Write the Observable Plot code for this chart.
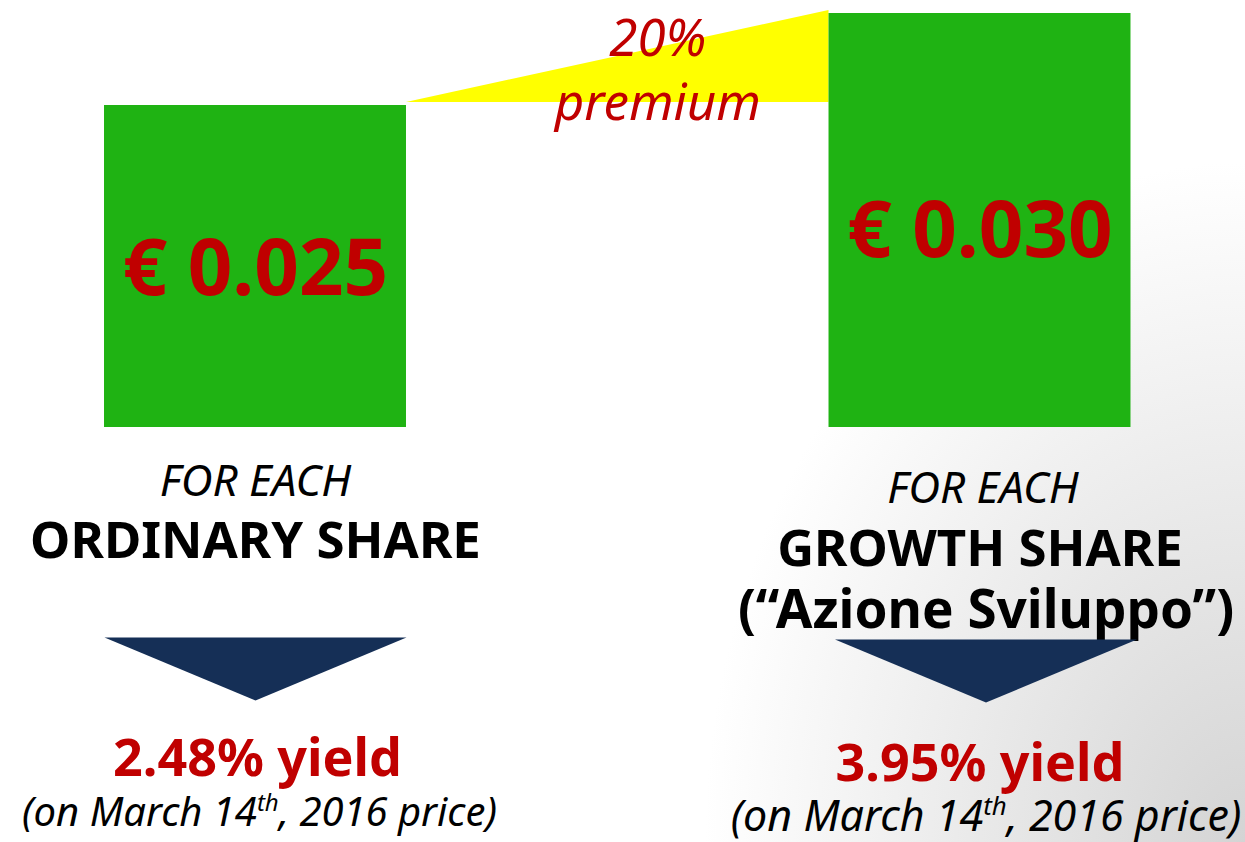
<!DOCTYPE html>
<html>
<head>
<meta charset="utf-8">
<script src="https://cdn.jsdelivr.net/npm/d3@7"></script>
<script src="https://cdn.jsdelivr.net/npm/@observablehq/plot@0.6"></script>
<style>
  html, body { margin: 0; padding: 0; background: #fff; }
  #chart svg { display: block; }
</style>
</head>
<body>
<div id="chart"></div>
<script>
// ---- data ----
const shareTypes = ["ORDINARY SHARE", "GROWTH SHARE"];
const shareSubtitles = ["", "(“Azione Sviluppo”)"];
const forEachLabel = "FOR EACH";
const dividends = [0.025, 0.030];
const dividendLabels = ["€ 0.025", "€ 0.030"];
const yields = ["2.48% yield", "3.95% yield"];
const priceNotes = ["(on March 14th, 2016 price)", "(on March 14th, 2016 price)"];
const premiumLabel = "20%\npremium";
const axisBase = 0.0075;

// ---- layout / style ----
const FONT = '"Noto Sans", "Open Sans", sans-serif';
const RED = "#c00000";
const GREEN = "#1fb313";
const NAVY = "#152f56";
const HW = 0.2084; // bar half width in x units

const rows = shareTypes.map((t, i) => ({
  i, forEach: forEachLabel, type: t, sub: shareSubtitles[i], value: dividends[i],
  label: dividendLabels[i], yield: yields[i], note: priceNotes[i]
}));

const wedge = {
  draw(ctx) {
    const w = 151, h = 63;
    ctx.moveTo(-w, 0); ctx.lineTo(w, 0); ctx.lineTo(0, h); ctx.closePath();
  }
};

const premiumPts = [
  {x: rows[0].i + HW, y1: dividends[0], y2: dividends[0]},
  {x: rows[1].i - HW, y1: dividends[0], y2: dividends[1]}
];

const common = {fontFamily: FONT, textAnchor: "middle"};

// one text mark per row, anchored at the bar base, offset in px
function rowText(key, opts, dys, dxs = [0, 0], sizes = null) {
  return rows.filter(r => r[key]).map(r => Plot.text([r], {
    ...common, ...opts, x: "i", y: axisBase, text: key,
    dy: dys[r.i], dx: dxs[r.i], ...(sizes ? {fontSize: sizes[r.i]} : {})
  }));
}

const chart = Plot.plot({
  width: 1245, height: 842,
  margin: 0,
  x: {type: "linear", domain: [0, 1], range: [255, 979.5], axis: null},
  y: {type: "linear", domain: [axisBase, 0.030], range: [427, 13], axis: null},
  style: {background: "radial-gradient(ellipse 540px 680px at 100% 100%, #d4d4d4 0%, #ffffff 100%)", overflow: "visible"},
  marks: [
    Plot.areaY(premiumPts, {x: "x", y1: "y1", y2: "y2", fill: "#ffff00", curve: "linear", dy: -3}),
    Plot.rect(rows, {x1: d => d.i - HW, x2: d => d.i + HW, y1: axisBase, y2: "value", fill: GREEN}),
    rows.map(r => Plot.text([r], {...common, x: "i", y: d => (d.value + axisBase) / 2, text: "label",
      fill: RED, fontSize: 78, fontWeight: "bold", dy: [4, 12][r.i]})),
    Plot.text([premiumLabel], {...common, x: 0.5, y: dividends[1], text: d => d, fill: RED,
      fontSize: 51, fontStyle: "italic", lineAnchor: "top", lineHeight: 1.24, dx: 40, dy: -2}),
    rowText("forEach", {fill: "#000", fontSize: 44, fontStyle: "italic", lineAnchor: "bottom"}, [68, 75], [0, 3]),
    rowText("type", {fill: "#000", fontSize: 51, fontWeight: "bold", lineAnchor: "bottom"}, [130, 138]),
    rowText("sub", {fill: "#000", fontSize: 53, fontWeight: "bold", lineAnchor: "bottom"}, [0, 200], [0, 6]),
    rows.map(r => Plot.dot([r], {x: "i", y: axisBase, symbol: wedge, fill: NAVY, stroke: "none",
      dy: [210, 212][r.i], dx: [0, 6][r.i]})),
    rowText("yield", {fill: RED, fontSize: 52, fontWeight: "bold", lineAnchor: "bottom"}, [348, 353], [2, 0]),
    rowText("note", {fill: "#000", fontStyle: "italic", lineAnchor: "bottom"}, [398, 403], [4, 6], [40, 43])
  ]
});

// superscript "th"
d3.select(chart).selectAll("text").each(function() {
  const el = d3.select(this);
  const s = this.textContent;
  if (this.childElementCount === 0 && s.includes("14th")) {
    const [a, b] = s.split("14th");
    el.text(null);
    el.append("tspan").text(a + "14");
    el.append("tspan").attr("font-size", "0.6em").attr("dy", "-0.6em").text("th");
    el.append("tspan").attr("dy", "0.36em").attr("font-size", "1em").text(b);
  }
});
document.getElementById("chart").appendChild(chart);
</script>
</body>
</html>
